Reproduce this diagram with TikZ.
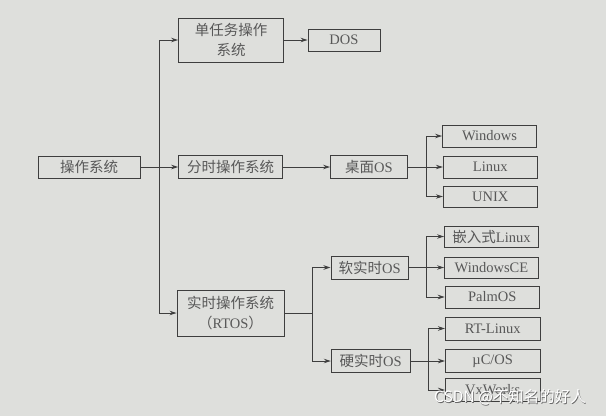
\documentclass[tikz,border=0pt]{standalone}
\usepackage{fontspec}
\setmainfont{Liberation Serif}
\newfontfamily\cjk{Noto Sans CJK SC}
\usetikzlibrary{arrows.meta}
\definecolor{bg}{RGB}{222,223,220}
\definecolor{ink}{RGB}{62,62,62}
\definecolor{txt}{RGB}{88,88,88}
\begin{document}
\begin{tikzpicture}[x=1pt,y=-1pt,
  box/.style={draw=ink, line width=0.9pt, rectangle, text=txt, font=\fontsize{14.5}{19.5}\selectfont, inner sep=0pt, align=center},
  arr/.style={draw=ink, line width=0.9pt, -{Stealth[length=7pt,width=4.5pt]}},
  ln/.style={draw=ink, line width=0.9pt}]
\fill[bg] (0,0) rectangle (606,416);
\useasboundingbox (0,0) rectangle (606,416);
% nodes
\node[box, minimum width=102pt, minimum height=22pt] (os) at (89,167) {\cjk 操作系统};
\node[box, minimum width=105pt, minimum height=44pt] (single) at (231,40) {\cjk 单任务操作\\\cjk 系统};
\node[box, minimum width=72pt, minimum height=22pt] (dos) at (344,40) {DOS};
\node[box, minimum width=104pt, minimum height=23pt] (fenshi) at (230.6,167) {\cjk 分时操作系统};
\node[box, minimum width=77pt, minimum height=23pt] (desk) at (369,167) {{\cjk 桌面}OS};
\node[box, minimum width=94pt, minimum height=22pt] (windows) at (489.5,136) {Windows};
\node[box, minimum width=94pt, minimum height=22pt] (linux) at (490.3,167) {Linux};
\node[box, minimum width=94pt, minimum height=21pt] (unix) at (490.3,196.5) {UNIX};
\node[box, minimum width=107pt, minimum height=46pt] (rtos) at (230.5,313) {\cjk 实时操作系统\\{\cjk （}RTOS{\cjk ）}};
\node[box, minimum width=77.5pt, minimum height=23pt] (soft) at (369.7,267.5) {{\cjk 软实时}OS};
\node[box, minimum width=78.7pt, minimum height=22.5pt] (hard) at (370.6,361) {{\cjk 硬实时}OS};
\node[box, minimum width=94pt, minimum height=21pt] (emb) at (491.5,236.5) {{\cjk 嵌入式}Linux};
\node[box, minimum width=94pt, minimum height=21pt] (wince) at (491.5,267.5) {WindowsCE};
\node[box, minimum width=94pt, minimum height=22pt] (palm) at (492.2,297) {PalmOS};
\node[box, minimum width=94.5pt, minimum height=23pt] (rtl) at (492.7,328.5) {RT-Linux};
\node[box, minimum width=94.5pt, minimum height=23pt] (ucos) at (492.7,361) {µC/OS};
\node[box, minimum width=94.5pt, minimum height=23pt] (vx) at (492.7,390) {VxWorks};
% connectors
\coordinate (trunk) at (159.6,167);
\draw[arr] (os.east) -- (fenshi.west);
\draw[arr] (trunk) |- (single.west);
\draw[arr] (trunk) |- (rtos.west);
\draw[arr] (single.east) -- (dos.west);
\draw[arr] (fenshi.east) -- (desk.west);
\coordinate (b1) at (426.4,167);
\draw[ln] (desk.east) -- (b1);
\draw[arr] (b1) |- (windows.west);
\draw[arr] (b1) -- (linux.west);
\draw[arr] (b1) |- (unix.west);
\coordinate (b2) at (312.3,313);
\draw[ln] (rtos.east) -- (b2);
\draw[arr] (b2) |- (soft.west);
\draw[arr] (b2) |- (hard.west);
\coordinate (b3) at (426.2,267.5);
\draw[ln] (soft.east) -- (b3);
\draw[arr] (b3) |- (emb.west);
\draw[arr] (b3) -- (wince.west);
\draw[arr] (b3) |- (palm.west);
\coordinate (b4) at (428.3,361);
\draw[ln] (hard.east) -- (b4);
\draw[arr] (b4) |- (rtl.west);
\draw[arr] (b4) -- (ucos.west);
\draw[arr] (b4) |- (vx.west);
% watermark
\node[anchor=west, text=black!60, font=\cjk\fontsize{15.5}{16}\selectfont, inner sep=0pt] (wmshadow) at (434.8,397.8) {CSDN @不知名的好人};
\node[anchor=west, text=white, font=\cjk\fontsize{15.5}{16}\selectfont, inner sep=0pt] (wm) at (434,397) {CSDN @不知名的好人};
\end{tikzpicture}
\end{document}
